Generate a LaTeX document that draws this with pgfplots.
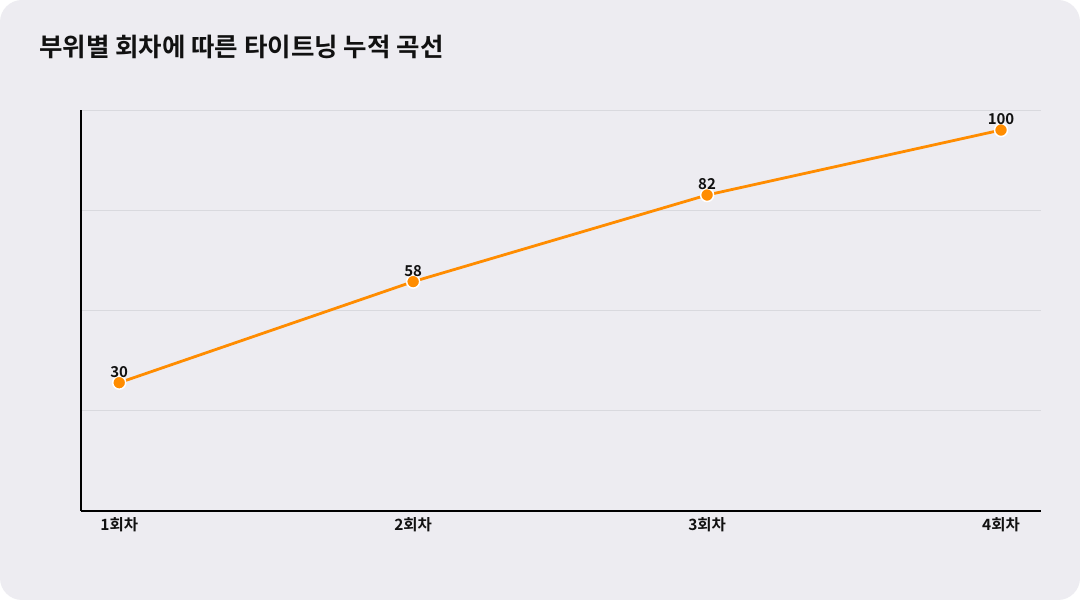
\documentclass[border=0pt]{standalone}
\usepackage{pgfplots}
\pgfplotsset{compat=1.18}
\usepackage{fontspec}
\setmainfont{Noto Sans CJK KR}
\newfontfamily\krbold{Noto Sans CJK KR Bold}
\definecolor{bgc}{HTML}{EDECF1}
\definecolor{linec}{HTML}{FF8C00}
\definecolor{gridc}{HTML}{D9D9DE}
\definecolor{txt}{HTML}{111111}
\begin{document}
\begin{tikzpicture}[x=1pt,y=1pt]
\useasboundingbox (0,0) rectangle (1080,600);
\fill[white] (0,0) rectangle (1080,600);
\fill[bgc, rounded corners=22pt] (0,0) rectangle (1080,600);
\node[anchor=west, text=txt, font=\krbold\fontsize{25.5}{30}\selectfont, inner sep=0pt] at (39,553) {부위별 회차에 따른 타이트닝 누적 곡선};
\begin{axis}[
  at={(81pt,89pt)}, anchor=south west,
  scale only axis,
  width=960pt, height=401pt,
  xmin=-0.13, xmax=3.136,
  ymin=-5.556, ymax=105.556,
  axis x line=bottom, axis y line=left,
  axis line style={line width=2pt, black, -},
  xtick={0,1,2,3},
  xticklabels={1회차,2회차,3회차,4회차},
  ytick={-5.556,22.222,50,77.778,105.556},
  yticklabels={},
  major tick length=0pt,
  ymajorgrids,
  grid style={gridc, line width=0.8pt},
  xticklabel style={font=\krbold\fontsize{15.5}{18}\selectfont, text=txt, yshift=-3pt},
  clip=false,
]
\addplot[
  color=linec, line width=2.8pt,
  mark=*, mark size=6.5pt,
  mark options={fill=linec, draw=white, line width=1.5pt},
  nodes near coords,
  every node near coord/.append style={font=\krbold\fontsize{15}{18}\selectfont, text=txt, yshift=1pt, /pgf/number format/assume math mode=true},
] coordinates {
  (0,30)
  (1,58)
  (2,82)
  (3,100)
};
\end{axis}
\end{tikzpicture}
\end{document}
